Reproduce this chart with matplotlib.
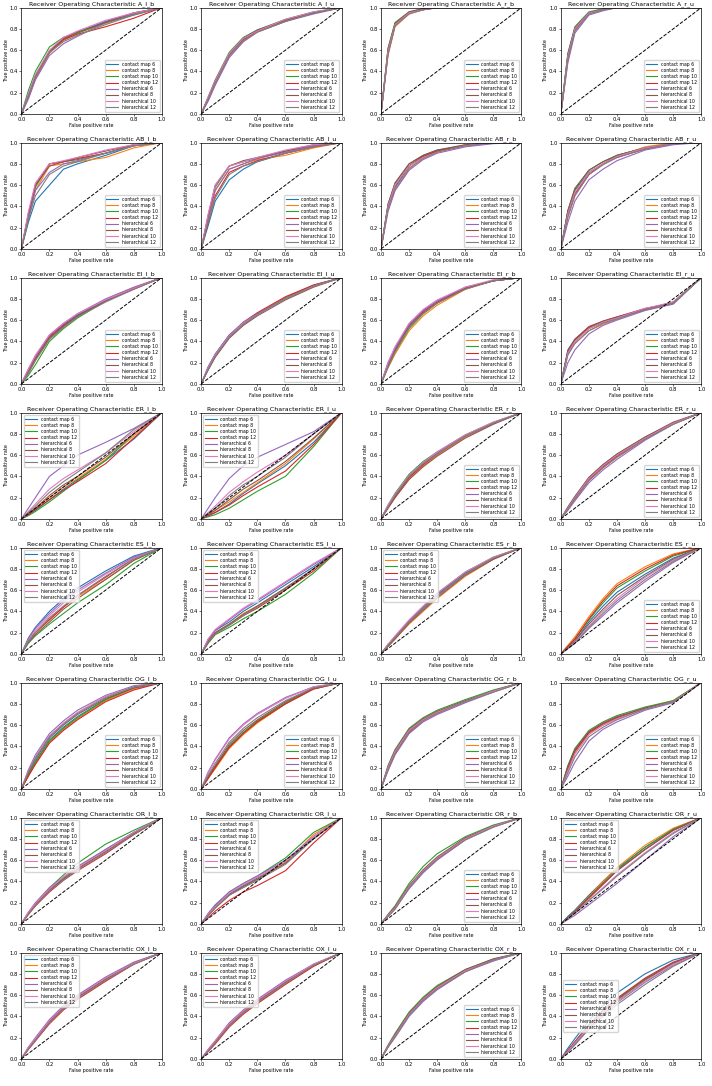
import matplotlib
matplotlib.use("Agg")
import matplotlib.pyplot as plt

fpr = [0, 0.05, 0.1, 0.2, 0.3, 0.4, 0.6, 0.8, 1.0]
labels = ["contact map 6", "contact map 8", "contact map 10", "contact map 12",
          "hierarchical 6", "hierarchical 8", "hierarchical 10", "hierarchical 12"]
titles = ["A_l_b", "A_l_u", "A_r_b", "A_r_u", "AB_l_b", "AB_l_u", "AB_r_b", "AB_r_u",
          "EI_l_b", "EI_l_u", "EI_r_b", "EI_r_u", "ER_l_b", "ER_l_u", "ER_r_b", "ER_r_u",
          "ES_l_b", "ES_l_u", "ES_r_b", "ES_r_u", "OG_l_b", "OG_l_u", "OG_r_b", "OG_r_u",
          "OR_l_b", "OR_l_u", "OR_r_b", "OR_r_u", "OX_l_b", "OX_l_u", "OX_r_b", "OX_r_u"]
legend_loc = ["lower right"] * 12 + ["upper left", "upper left", "lower right", "lower right",
              "upper left", "upper left", "upper left", "lower right",
              "lower right", "lower right", "lower right", "lower right",
              "upper left", "upper left", "lower right", "upper left",
              "upper left", "upper left", "lower right", "center left"]

tpr_A_l_b = [[0,.16,.34,.58,.70,.77,.87,.95,1],[0,.15,.33,.57,.69,.76,.85,.94,1],[0,.22,.40,.63,.72,.76,.86,.93,1],[0,.17,.35,.58,.70,.75,.82,.90,1],
             [0,.14,.32,.55,.66,.73,.86,.94,1],[0,.18,.36,.59,.71,.77,.86,.95,1],[0,.19,.37,.60,.72,.78,.88,.95,1],[0,.17,.35,.58,.68,.74,.84,.93,1]]
tpr_A_l_u = [[0,.14,.30,.56,.70,.78,.88,.95,1],[0,.13,.28,.54,.68,.77,.87,.95,1],[0,.16,.32,.58,.72,.79,.89,.96,1],[0,.15,.31,.56,.70,.78,.88,.95,1],
             [0,.12,.27,.53,.68,.77,.87,.94,1],[0,.15,.30,.56,.71,.79,.88,.95,1],[0,.16,.31,.57,.71,.78,.89,.96,1],[0,.14,.29,.55,.69,.77,.87,.95,1]]
tpr_A_r_b = [[0,.60,.85,.95,.98,1,1,1,1],[0,.55,.82,.94,.98,1,1,1,1],[0,.62,.86,.96,.99,1,1,1,1],[0,.58,.84,.95,.98,1,1,1,1],
             [0,.57,.83,.95,.98,1,1,1,1],[0,.61,.85,.96,.99,1,1,1,1],[0,.59,.84,.95,.98,1,1,1,1],[0,.56,.83,.94,.98,1,1,1,1]]
tpr_A_r_u = [[0,.55,.80,.95,.98,1,1,1,1],[0,.50,.78,.94,.98,1,1,1,1],[0,.57,.82,.96,.99,1,1,1,1],[0,.53,.79,.95,.98,1,1,1,1],
             [0,.48,.76,.93,.97,1,1,1,1],[0,.56,.81,.95,.98,1,1,1,1],[0,.54,.80,.95,.98,1,1,1,1],[0,.52,.78,.94,.98,1,1,1,1]]
tpr_AB_l_b = [[0,.25,.45,.60,.75,.80,.88,.97,1],[0,.30,.55,.78,.80,.82,.86,.95,1],[0,.28,.58,.80,.82,.84,.90,.97,1],[0,.32,.60,.80,.82,.85,.90,.98,1],
              [0,.30,.55,.72,.80,.83,.90,.97,1],[0,.33,.60,.78,.82,.86,.92,.98,1],[0,.35,.62,.80,.83,.86,.93,.98,1],[0,.28,.50,.70,.78,.82,.90,.97,1]]
tpr_AB_l_u = [[0,.22,.45,.65,.75,.82,.90,.96,1],[0,.28,.55,.75,.80,.84,.88,.95,1],[0,.30,.58,.78,.82,.85,.92,.97,1],[0,.25,.50,.72,.78,.83,.90,.96,1],
              [0,.30,.55,.75,.80,.85,.91,.97,1],[0,.32,.60,.78,.83,.86,.92,.98,1],[0,.33,.60,.78,.82,.86,.93,.98,1],[0,.26,.48,.70,.78,.82,.90,.96,1]]
tpr_AB_r_b = [[0,.40,.58,.78,.87,.92,.97,1,1],[0,.38,.55,.75,.86,.92,.98,1,1],[0,.42,.62,.80,.88,.93,.97,1,1],[0,.40,.60,.78,.87,.92,.97,1,1],
              [0,.35,.55,.74,.84,.90,.96,.99,1],[0,.42,.62,.80,.88,.93,.98,1,1],[0,.40,.60,.78,.86,.91,.97,1,1],[0,.38,.57,.76,.85,.91,.97,1,1]]
tpr_AB_r_u = [[0,.35,.55,.72,.80,.88,.95,.99,1],[0,.30,.50,.70,.80,.87,.96,1,1],[0,.36,.56,.74,.82,.88,.95,.99,1],[0,.32,.52,.70,.80,.86,.94,.99,1],
              [0,.25,.45,.65,.75,.83,.93,.98,1],[0,.36,.57,.74,.82,.88,.95,.99,1],[0,.33,.53,.72,.80,.87,.95,.99,1],[0,.30,.50,.70,.79,.86,.94,.99,1]]
tpr_EI_l_b = [[0,.14,.26,.45,.56,.65,.79,.90,1],[0,.10,.22,.42,.54,.63,.78,.90,1],[0,.08,.18,.40,.52,.62,.78,.90,1],[0,.12,.24,.44,.55,.64,.78,.89,1],
              [0,.13,.26,.46,.57,.66,.80,.91,1],[0,.11,.23,.43,.54,.64,.78,.90,1],[0,.14,.27,.46,.57,.66,.79,.90,1],[0,.10,.22,.42,.53,.63,.77,.89,1]]
tpr_EI_l_u = [[0,.16,.28,.46,.57,.66,.80,.92,1],[0,.14,.26,.44,.56,.65,.80,.92,1],[0,.15,.27,.45,.57,.66,.81,.93,1],[0,.14,.26,.45,.58,.67,.82,.93,1],
              [0,.16,.28,.46,.58,.66,.80,.92,1],[0,.13,.25,.43,.55,.64,.79,.91,1],[0,.15,.27,.45,.57,.65,.80,.92,1],[0,.14,.26,.44,.56,.65,.80,.92,1]]
tpr_EI_r_b = [[0,.20,.34,.56,.69,.78,.90,.97,1],[0,.15,.28,.50,.64,.74,.89,.97,1],[0,.16,.30,.52,.66,.76,.90,.97,1],[0,.18,.32,.55,.68,.77,.90,.97,1],
              [0,.19,.33,.56,.69,.78,.91,.97,1],[0,.17,.31,.54,.67,.76,.90,.97,1],[0,.20,.35,.57,.70,.79,.91,.98,1],[0,.16,.30,.53,.66,.76,.89,.97,1]]
tpr_EI_r_u = [[0,.32,.42,.53,.58,.62,.70,.76,1],[0,.28,.38,.50,.56,.61,.70,.77,1],[0,.30,.40,.52,.58,.62,.70,.77,1],[0,.30,.41,.53,.59,.63,.71,.76,1],
              [0,.20,.32,.47,.55,.60,.69,.75,1],[0,.31,.42,.54,.59,.63,.70,.76,1],[0,.29,.40,.52,.58,.62,.71,.77,1],[0,.27,.38,.50,.57,.61,.70,.76,1]]
tpr_ER_l_b = [[0,.04,.08,.18,.28,.37,.55,.75,1],[0,.05,.10,.20,.30,.38,.56,.78,1],[0,.03,.07,.16,.26,.36,.55,.80,1],[0,.04,.09,.18,.27,.35,.52,.76,1],
              [0,.10,.20,.40,.50,.60,.72,.85,1],[0,.05,.10,.22,.32,.40,.58,.80,1],[0,.07,.14,.28,.38,.46,.62,.82,1],[0,.06,.12,.25,.35,.44,.62,.84,1]]
tpr_ER_l_u = [[0,.03,.06,.14,.24,.33,.50,.72,1],[0,.04,.08,.16,.25,.34,.52,.75,1],[0,.02,.04,.10,.18,.26,.40,.68,1],[0,.03,.06,.13,.22,.30,.45,.70,1],
              [0,.10,.20,.38,.50,.58,.70,.82,1],[0,.04,.08,.18,.28,.36,.54,.76,1],[0,.06,.12,.25,.35,.44,.60,.80,1],[0,.05,.10,.22,.32,.40,.58,.80,1]]
tpr_ER_r_b = [[0,.12,.22,.40,.52,.62,.78,.90,1],[0,.10,.20,.38,.50,.60,.77,.90,1],[0,.13,.24,.42,.54,.63,.79,.91,1],[0,.11,.21,.39,.51,.61,.78,.90,1],
              [0,.12,.23,.41,.53,.62,.78,.90,1],[0,.10,.20,.37,.49,.59,.76,.89,1],[0,.13,.23,.41,.53,.63,.79,.91,1],[0,.11,.22,.40,.52,.61,.78,.90,1]]
tpr_ER_r_u = [[0,.10,.20,.38,.50,.60,.76,.90,1],[0,.09,.18,.36,.48,.58,.75,.89,1],[0,.11,.21,.39,.51,.61,.77,.90,1],[0,.10,.19,.37,.49,.59,.76,.90,1],
              [0,.08,.17,.34,.46,.56,.74,.89,1],[0,.11,.21,.39,.51,.61,.77,.91,1],[0,.10,.20,.38,.50,.60,.76,.90,1],[0,.09,.19,.36,.48,.58,.75,.89,1]]
tpr_ES_l_b = [[0,.15,.25,.40,.52,.62,.78,.92,1],[0,.12,.20,.33,.44,.54,.70,.88,1],[0,.10,.17,.28,.38,.48,.65,.85,1],[0,.12,.20,.32,.44,.55,.72,.90,1],
              [0,.14,.24,.38,.50,.60,.76,.91,1],[0,.11,.18,.30,.42,.52,.70,.88,1],[0,.13,.22,.36,.48,.58,.75,.90,1],[0,.12,.20,.34,.45,.55,.73,.89,1]]
tpr_ES_l_u = [[0,.14,.22,.30,.40,.48,.65,.82,1],[0,.12,.20,.28,.38,.45,.62,.80,1],[0,.10,.18,.25,.33,.40,.56,.76,1],[0,.11,.19,.27,.36,.43,.60,.78,1],
              [0,.13,.22,.32,.42,.50,.67,.84,1],[0,.12,.20,.28,.37,.45,.62,.80,1],[0,.14,.23,.33,.43,.51,.68,.85,1],[0,.11,.19,.27,.36,.44,.61,.80,1]]
tpr_ES_r_b = [[0,.08,.15,.30,.43,.56,.76,.90,1],[0,.07,.14,.28,.40,.52,.73,.89,1],[0,.09,.16,.31,.44,.57,.77,.91,1],[0,.08,.15,.30,.42,.55,.75,.90,1],
              [0,.08,.16,.31,.43,.55,.75,.90,1],[0,.07,.14,.29,.41,.53,.74,.89,1],[0,.09,.17,.32,.45,.57,.77,.91,1],[0,.08,.15,.30,.42,.54,.75,.90,1]]
tpr_ES_r_u = [[0,.06,.12,.30,.45,.58,.75,.90,1],[0,.08,.16,.35,.52,.66,.82,.94,1],[0,.07,.14,.32,.48,.62,.78,.92,1],[0,.07,.14,.33,.50,.64,.80,.93,1],
              [0,.05,.10,.24,.36,.48,.68,.86,1],[0,.06,.12,.28,.42,.55,.73,.89,1],[0,.05,.11,.26,.40,.52,.72,.88,1],[0,.05,.10,.25,.38,.50,.70,.87,1]]
tpr_OG_l_b = [[0,.14,.26,.46,.58,.68,.84,.95,1],[0,.12,.24,.44,.56,.66,.83,.94,1],[0,.13,.25,.45,.57,.67,.84,.95,1],[0,.12,.23,.43,.55,.65,.82,.93,1],
              [0,.18,.32,.52,.64,.74,.88,.97,1],[0,.15,.28,.48,.60,.70,.85,.95,1],[0,.17,.30,.50,.62,.72,.87,.96,1],[0,.16,.29,.49,.61,.71,.86,.96,1]]
tpr_OG_l_u = [[0,.10,.20,.40,.53,.63,.80,.94,1],[0,.10,.19,.38,.51,.62,.80,.94,1],[0,.11,.21,.40,.53,.64,.81,.95,1],[0,.10,.20,.39,.52,.63,.80,.94,1],
              [0,.16,.28,.48,.61,.71,.86,.96,1],[0,.12,.22,.42,.55,.65,.82,.95,1],[0,.15,.27,.47,.60,.70,.85,.96,1],[0,.13,.24,.44,.57,.67,.83,.95,1]]
tpr_OG_r_b = [[0,.20,.35,.55,.65,.72,.82,.92,1],[0,.18,.33,.53,.64,.71,.82,.92,1],[0,.22,.37,.57,.67,.74,.84,.93,1],[0,.19,.34,.54,.65,.72,.82,.92,1],
              [0,.17,.32,.52,.63,.70,.81,.91,1],[0,.21,.36,.56,.66,.73,.83,.92,1],[0,.20,.35,.55,.65,.72,.82,.92,1],[0,.18,.33,.53,.64,.71,.82,.91,1]]
tpr_OG_r_u = [[0,.20,.36,.53,.61,.67,.75,.82,1],[0,.18,.33,.52,.60,.66,.76,.83,1],[0,.22,.38,.55,.63,.69,.77,.83,1],[0,.19,.35,.53,.61,.67,.76,.82,1],
              [0,.12,.25,.45,.56,.63,.74,.81,1],[0,.21,.37,.54,.62,.68,.76,.82,1],[0,.17,.33,.51,.60,.66,.75,.82,1],[0,.15,.30,.49,.58,.65,.75,.82,1]]
tpr_OR_l_b = [[0,.10,.18,.32,.43,.53,.70,.86,1],[0,.09,.17,.31,.42,.52,.68,.84,1],[0,.10,.19,.34,.46,.57,.75,.88,1],[0,.09,.17,.30,.41,.50,.66,.84,1],
              [0,.11,.20,.34,.44,.54,.70,.86,1],[0,.10,.18,.32,.42,.52,.68,.85,1],[0,.11,.19,.33,.44,.53,.69,.86,1],[0,.09,.17,.31,.41,.51,.67,.84,1]]
tpr_OR_l_u = [[0,.09,.16,.28,.36,.43,.58,.82,1],[0,.08,.15,.27,.35,.42,.58,.84,1],[0,.09,.17,.30,.38,.45,.62,.86,1],[0,.06,.12,.22,.30,.36,.50,.76,1],
              [0,.10,.18,.30,.38,.45,.60,.82,1],[0,.08,.15,.27,.35,.42,.57,.80,1],[0,.09,.16,.29,.37,.44,.59,.82,1],[0,.08,.15,.27,.34,.41,.56,.80,1]]
tpr_OR_r_b = [[0,.08,.15,.35,.50,.62,.80,.92,1],[0,.07,.14,.34,.49,.61,.79,.92,1],[0,.09,.17,.38,.54,.66,.82,.93,1],[0,.08,.15,.35,.50,.62,.80,.92,1],
              [0,.07,.14,.33,.48,.60,.79,.91,1],[0,.08,.16,.36,.51,.63,.81,.92,1],[0,.08,.15,.35,.50,.62,.80,.92,1],[0,.07,.14,.34,.49,.61,.79,.91,1]]
tpr_OR_r_u = [[0,.07,.13,.27,.40,.52,.72,.89,1],[0,.06,.12,.26,.40,.53,.74,.90,1],[0,.06,.12,.25,.38,.51,.72,.89,1],[0,.05,.11,.24,.37,.50,.70,.88,1],
              [0,.04,.08,.18,.28,.38,.60,.82,1],[0,.06,.12,.25,.38,.50,.70,.88,1],[0,.05,.10,.22,.34,.46,.67,.86,1],[0,.05,.10,.22,.33,.45,.66,.85,1]]
tpr_OX_l_b = [[0,.10,.18,.35,.48,.58,.75,.90,1],[0,.09,.17,.34,.47,.57,.74,.89,1],[0,.10,.19,.36,.49,.59,.76,.90,1],[0,.09,.17,.33,.46,.56,.73,.89,1],
              [0,.11,.20,.37,.50,.60,.77,.91,1],[0,.10,.18,.35,.48,.58,.75,.90,1],[0,.11,.19,.36,.49,.59,.76,.90,1],[0,.09,.17,.34,.47,.57,.74,.89,1]]
tpr_OX_l_u = [[0,.08,.16,.32,.44,.54,.72,.88,1],[0,.07,.15,.31,.43,.53,.71,.88,1],[0,.08,.16,.33,.45,.55,.73,.89,1],[0,.07,.14,.30,.42,.52,.70,.87,1],
              [0,.09,.17,.34,.46,.56,.74,.89,1],[0,.08,.16,.32,.44,.54,.72,.88,1],[0,.09,.17,.33,.45,.55,.73,.89,1],[0,.07,.15,.31,.43,.53,.71,.88,1]]
tpr_OX_r_b = [[0,.12,.22,.42,.56,.67,.83,.93,1],[0,.11,.21,.41,.55,.66,.82,.93,1],[0,.13,.24,.44,.58,.69,.84,.94,1],[0,.12,.22,.42,.56,.67,.83,.93,1],
              [0,.11,.20,.40,.54,.65,.82,.92,1],[0,.12,.23,.43,.57,.68,.84,.94,1],[0,.12,.22,.42,.56,.67,.83,.93,1],[0,.11,.21,.41,.55,.66,.82,.93,1]]
tpr_OX_r_u = [[0,.10,.19,.36,.50,.62,.80,.93,1],[0,.08,.16,.32,.45,.56,.75,.90,1],[0,.07,.14,.30,.43,.55,.74,.90,1],[0,.08,.16,.32,.46,.57,.76,.91,1],
              [0,.07,.14,.29,.42,.53,.72,.88,1],[0,.08,.16,.32,.45,.56,.75,.90,1],[0,.07,.15,.30,.43,.54,.73,.89,1],[0,.06,.13,.28,.40,.51,.70,.87,1]]

all_tpr = [tpr_A_l_b, tpr_A_l_u, tpr_A_r_b, tpr_A_r_u, tpr_AB_l_b, tpr_AB_l_u, tpr_AB_r_b, tpr_AB_r_u,
           tpr_EI_l_b, tpr_EI_l_u, tpr_EI_r_b, tpr_EI_r_u, tpr_ER_l_b, tpr_ER_l_u, tpr_ER_r_b, tpr_ER_r_u,
           tpr_ES_l_b, tpr_ES_l_u, tpr_ES_r_b, tpr_ES_r_u, tpr_OG_l_b, tpr_OG_l_u, tpr_OG_r_b, tpr_OG_r_u,
           tpr_OR_l_b, tpr_OR_l_u, tpr_OR_r_b, tpr_OR_r_u, tpr_OX_l_b, tpr_OX_l_u, tpr_OX_r_b, tpr_OX_r_u]

fig, axes = plt.subplots(8, 4, figsize=(7.12, 10.86), dpi=100)
for i, ax in enumerate(axes.flat):
    for j, lab in enumerate(labels):
        ax.plot(fpr, all_tpr[i][j], lw=0.8, label=lab, color=f"C{j}")
    ax.plot([0, 1], [0, 1], "k--", lw=0.7)
    ax.set_xlim(0, 1)
    ax.set_ylim(0, 1)
    ax.set_title("Receiver Operating Characteristic " + titles[i], fontsize=4.5, pad=1.5)
    ax.set_xlabel("False positive rate", fontsize=3.5, labelpad=0.5)
    ax.set_ylabel("True positive rate", fontsize=3.5, labelpad=0.5)
    ax.tick_params(labelsize=3.8, length=1.5, width=0.4, pad=1)
    for s in ax.spines.values():
        s.set_linewidth(0.5)
    ax.legend(loc=legend_loc[i], fontsize=3.3, handlelength=2.5, labelspacing=0.25,
              borderpad=0.4, framealpha=0.8)
fig.subplots_adjust(left=0.03, right=0.985, top=0.993, bottom=0.025, wspace=0.28, hspace=0.27)
fig.savefig("out.png", dpi=100)
